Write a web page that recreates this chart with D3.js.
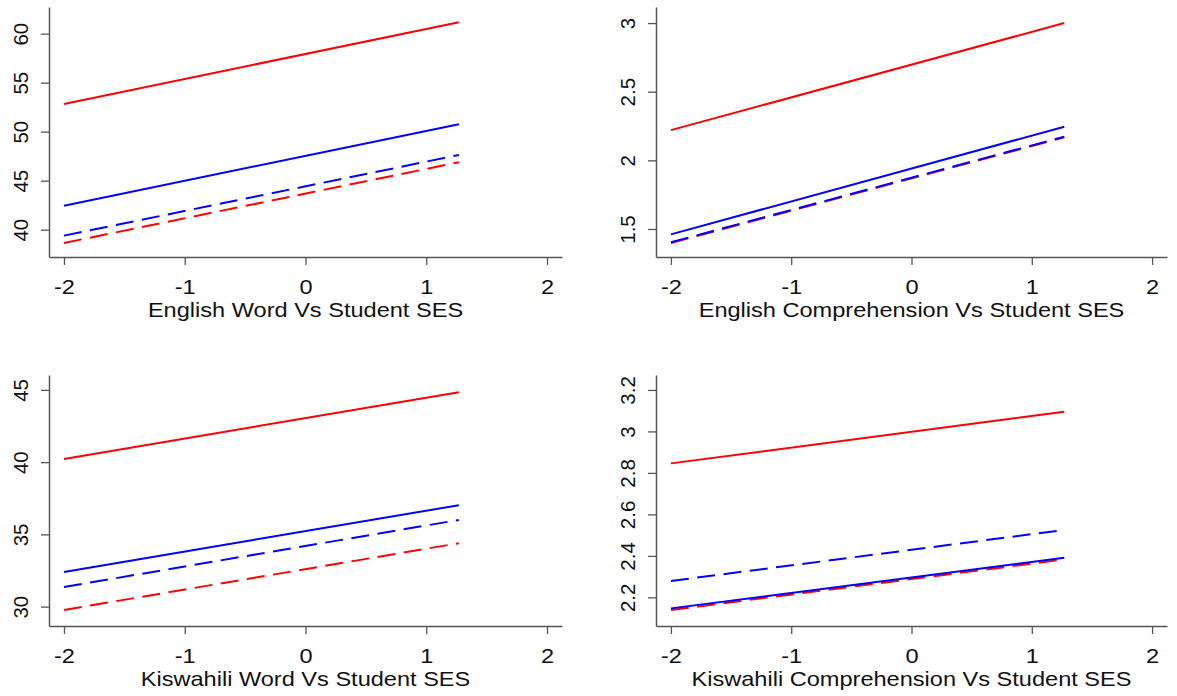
<!DOCTYPE html>
<html>
<head>
<meta charset="utf-8">
<script src="https://cdn.jsdelivr.net/npm/d3@7"></script>
<style>
  html, body { margin: 0; padding: 0; background: #fff; }
  svg { display: block; }
  text { font-family: "Liberation Sans", Arial, sans-serif; fill: #111; }
</style>
</head>
<body>
<svg id="chart" width="1177" height="696"></svg>
<script>
// Student SES range over which each fitted line is drawn
const sesPoints = [-2, 1.27];
const xTicks = [-2, -1, 0, 1, 2];

const panelTitles = [
  "English Word Vs Student SES",
  "English Comprehension Vs Student SES",
  "Kiswahili Word Vs Student SES",
  "Kiswahili Comprehension Vs Student SES"
];

// Line styles, in drawing order
const seriesColors = ["#ff0000", "#0000ff", "#ff0000", "#0000ff"];
const seriesDashed = [true, true, false, false];

// Predicted scores at SES = -2 and SES = 1.27, same order as the styles
const englishWordLines = [[38.64, 46.88], [39.39, 47.62], [52.83, 61.16], [42.45, 50.76]];
const englishCompLines = [[1.398, 2.168], [1.403, 2.172], [2.22, 3.0], [1.461, 2.245]];
const kiswahiliWordLines = [[29.77, 34.39], [31.36, 36.0], [40.22, 44.84], [32.4, 37.02]];
const kiswahiliCompLines = [[2.139, 2.383], [2.279, 2.525], [2.846, 3.095], [2.147, 2.391]];

// Y-axis ticks
const englishWordTicks = [40, 45, 50, 55, 60];
const englishCompTicks = [1.5, 2, 2.5, 3];
const kiswahiliWordTicks = [30, 35, 40, 45];
const kiswahiliCompTicks = [2.2, 2.4, 2.6, 2.8, 3, 3.2];

// Y-axis extents
const englishWordRange = [37.21, 62.72];
const englishCompRange = [1.296, 3.117];
const kiswahiliWordRange = [28.66, 46.03];
const kiswahiliCompRange = [2.062, 3.272];

const xRange = [-2.124, 2.124];

const panels = [
  { title: panelTitles[0], lines: englishWordLines, ticks: englishWordTicks, yDomain: englishWordRange,
    box: { left: 49, right: 562, top: 7, bottom: 257 } },
  { title: panelTitles[1], lines: englishCompLines, ticks: englishCompTicks, yDomain: englishCompRange,
    box: { left: 656, right: 1167, top: 7, bottom: 257 } },
  { title: panelTitles[2], lines: kiswahiliWordLines, ticks: kiswahiliWordTicks, yDomain: kiswahiliWordRange,
    box: { left: 49, right: 562, top: 375, bottom: 626 } },
  { title: panelTitles[3], lines: kiswahiliCompLines, ticks: kiswahiliCompTicks, yDomain: kiswahiliCompRange,
    box: { left: 656, right: 1167, top: 375, bottom: 626 } }
];

const svg = d3.select("#chart");
const axisColor = "#555";
const fontSize = 20.5;
const stretch = 1.15;   // horizontal text is set a little wide

panels.forEach(p => {
  const b = p.box;
  const x = d3.scaleLinear().domain(xRange).range([b.left, b.right]);
  const y = d3.scaleLinear().domain(p.yDomain).range([b.bottom, b.top]);
  const g = svg.append("g");

  // fitted lines
  const line = d3.line().x((d, i) => x(sesPoints[i])).y(d => y(d));
  p.lines.forEach((vals, i) => {
    g.append("path")
      .attr("d", line(vals))
      .attr("fill", "none")
      .attr("stroke", seriesColors[i])
      .attr("stroke-width", 2)
      .attr("stroke-dasharray", seriesDashed[i] ? "18,8.5" : null);
  });

  // x axis
  const xAxis = d3.axisBottom(x).tickValues(xTicks).tickSize(8).tickSizeOuter(0).tickFormat(d3.format("d"));
  const gx = g.append("g").attr("transform", `translate(0,${b.bottom})`).call(xAxis);
  gx.select(".domain").attr("stroke", axisColor).attr("stroke-width", 1.5);
  gx.selectAll(".tick line").attr("stroke", axisColor).attr("stroke-width", 1.3);
  gx.selectAll(".tick text").remove();
  gx.selectAll(".tick").append("text")
    .attr("transform", `translate(0,37) scale(${stretch},1)`)
    .attr("text-anchor", "middle")
    .style("font-size", fontSize + "px")
    .text(d => d3.format("d")(d).replace("−", "-"));

  // y axis
  const yAxis = d3.axisLeft(y).tickValues(p.ticks).tickSize(8).tickSizeOuter(0);
  const gy = g.append("g").attr("transform", `translate(${b.left},0)`).call(yAxis);
  gy.select(".domain").attr("stroke", axisColor).attr("stroke-width", 1.5);
  gy.selectAll(".tick line").attr("stroke", axisColor).attr("stroke-width", 1.3);
  gy.selectAll(".tick text").remove();
  gy.selectAll(".tick").append("text")
    .attr("transform", "translate(-21.5,0) rotate(-90)")
    .attr("text-anchor", "middle")
    .style("font-size", fontSize + "px")
    .text(d => String(d));

  // panel title below the axis
  g.append("text")
    .attr("transform", `translate(${x(0)},${b.bottom + 60}) scale(${stretch},1)`)
    .attr("text-anchor", "middle")
    .style("font-size", fontSize + "px")
    .text(p.title);
});
</script>
</body>
</html>
